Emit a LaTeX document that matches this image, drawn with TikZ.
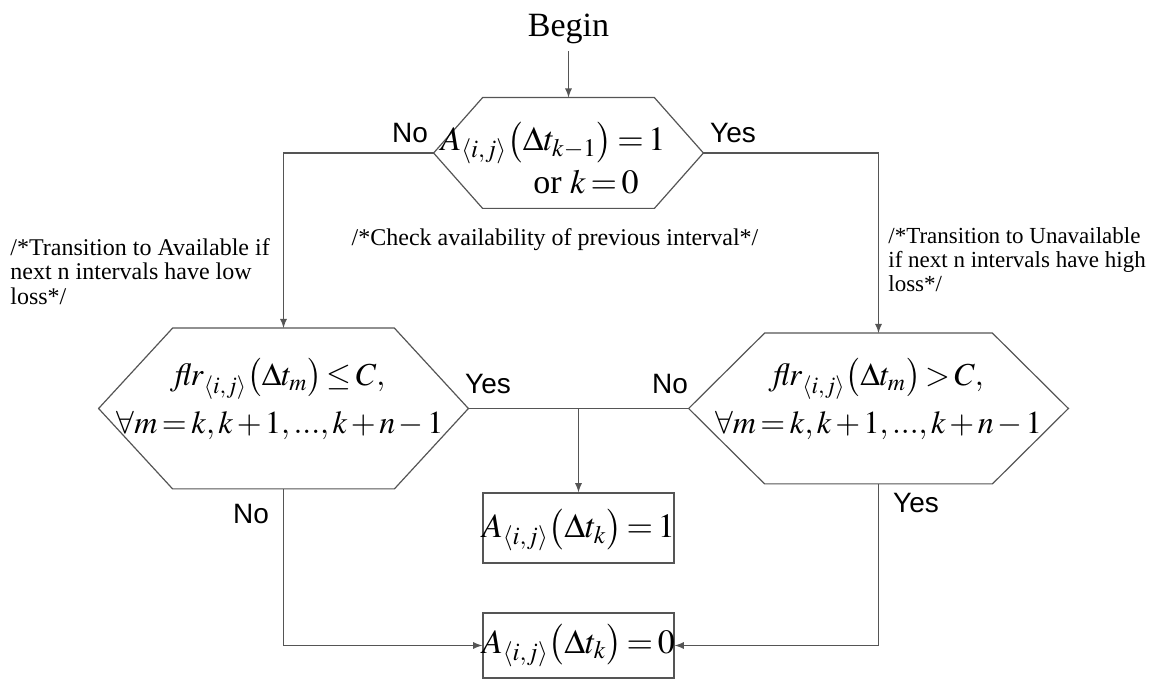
\documentclass[tikz,border=0pt]{standalone}
\usepackage{mathptmx}
\usepackage[no-math]{fontspec}
\setmainfont{Liberation Serif}
\setsansfont{Liberation Sans}
\usetikzlibrary{positioning,arrows}
\definecolor{lineclr}{RGB}{85,85,85}
\thickmuskip=2.5mu
\medmuskip=2mu

\begin{document}
\begin{tikzpicture}[x=0.5pt,y=-0.5pt,
  line/.style={draw=lineclr,line width=0.6pt},
  arr/.style={line,->,>=latex},
  hexnode/.style={rectangle,inner sep=0pt},
  box/.style={line,rectangle,inner sep=0pt,minimum width=95.5pt},
  formula/.style={font=\fontsize{17}{24}\selectfont,align=center,inner sep=0pt},
  lab/.style={font=\sffamily\fontsize{14}{16}\selectfont,inner sep=0pt},
  note/.style={font=\fontsize{12}{12.25}\selectfont,align=left,inner sep=0pt}]
\useasboundingbox (0,0) rectangle (1153,679);
\node[font=\fontsize{17}{19}\selectfont,inner sep=3.5pt] (begin) at (568.5,29) {Begin};
%
\node[hexnode,minimum width=134.5pt,minimum height=55pt] (chk) at (568.5,153) {};
\node[hexnode,minimum width=184.5pt,minimum height=80pt] (avl) at (283.5,408.5) {};
\node[hexnode,minimum width=189.5pt,minimum height=75pt] (una) at (878.5,408.5) {};
\node[box,minimum height=35pt] (one) at (578.5,528) {};
\node[box,minimum height=32.5pt] (zero) at (578.5,645.5) {};
%
\draw[line] (chk.west) -- ([xshift=24.5pt]chk.north west) -- ([xshift=-24.5pt]chk.north east)
  -- (chk.east) -- ([xshift=-24.5pt]chk.south east) -- ([xshift=24.5pt]chk.south west) -- cycle;
\draw[line] (avl.west) -- ([xshift=37pt]avl.north west) -- ([xshift=-37pt]avl.north east)
  -- (avl.east) -- ([xshift=-37pt]avl.south east) -- ([xshift=37pt]avl.south west) -- cycle;
\draw[line] (una.west) -- ([xshift=38pt]una.north west) -- ([xshift=-38pt]una.north east)
  -- (una.east) -- ([xshift=-38pt]una.south east) -- ([xshift=38pt]una.south west) -- cycle;
%
\node[formula] (chkmath) at (553,158) {$A_{\langle i,j\rangle}\bigl(\Delta t_{k-1}\bigr)=1$\\[-2.5pt]\hspace*{33pt}or $k=0$};
\node[formula,font=\fontsize{16}{24}\selectfont] (avlmath) at (280,399) {$\mathit{flr}_{\langle i,j\rangle}\bigl(\Delta t_m\bigr)\le C,$\\$\forall m=k,k+1,...,k+n-1$};
\node[formula,font=\fontsize{16}{24}\selectfont] (unamath) at (878.5,399) {$\mathit{flr}_{\langle i,j\rangle}\bigl(\Delta t_m\bigr)>C,$\\$\forall m=k,k+1,...,k+n-1$};
\node[formula] (onemath) at ([yshift=-1pt]one.center) {$A_{\langle i,j\rangle}\bigl(\Delta t_k\bigr)=1$};
\node[formula] (zeromath) at (zero) {$A_{\langle i,j\rangle}\bigl(\Delta t_k\bigr)=0$};
%
\node[lab] (no1) at (410,133) {No};
\node[lab] (yes1) at (733,133) {Yes};
\node[lab] (yes2) at (488,384) {Yes};
\node[lab] (no2) at (670,384) {No};
\node[lab] (no3) at (251,514) {No};
\node[lab] (yes3) at (916,503) {Yes};
%
\node[note,anchor=north west] (avlnote) at (10,238) {/*Transition to Available if\\next n intervals have low\\loss*/};
\node[note,anchor=base] (chknote) at (555,246) {/*Check availability of previous interval*/};
\node[note,anchor=north west,font=\fontsize{11.5}{12}\selectfont] (unanote) at (888,227) {/*Transition to Unavailable\\if next n intervals have high\\loss*/};
%
\draw[arr] (begin) -- (chk.north);
\draw[arr] (chk.west) -| (avl.north);
\draw[arr] (chk.east) -| (una.north);
\draw[line] (avl.east) -- (una.west);
\draw[arr] (avl.east -| one.north) -- (one.north);
\draw[arr] (avl.south) |- (zero.west);
\draw[arr] (una.south) |- (zero.east);
\end{tikzpicture}
\end{document}
